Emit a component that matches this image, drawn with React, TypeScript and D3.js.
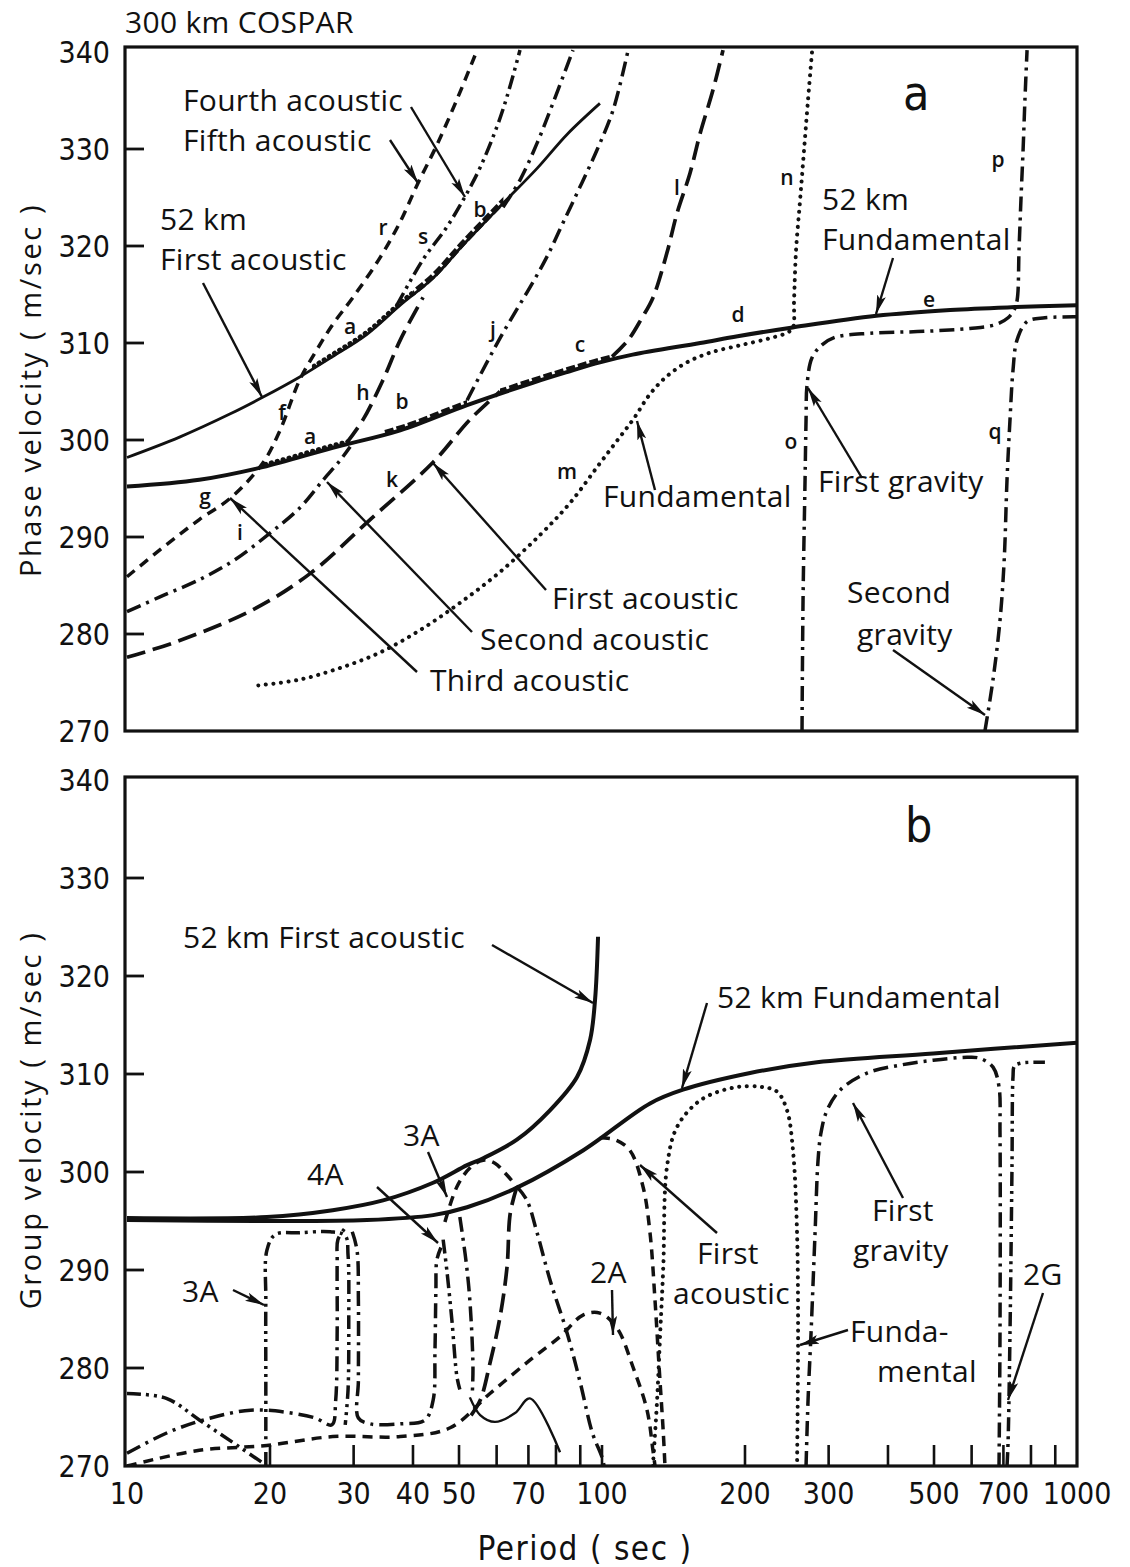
import React from "react";
import * as d3 from "d3";

type Pt = [number, number];

// ---------- axes ----------
const periodLabels = [10, 20, 30, 40, 50, 70, 100, 200, 300, 500, 700, 1000];
const periodMinorTicks = [20, 30, 40, 50, 60, 70, 80, 90, 100, 200, 300, 400, 500, 600, 700, 800, 900];
const velocityTicks = [270, 280, 290, 300, 310, 320, 330, 340];
const velocityInnerTicks = [280, 290, 300, 310, 320, 330];

// ---------- panel a : phase velocity (period s, m/s) ----------
const a52Fundamental: Pt[] = [[10,295.2],[14.2,295.9],[19.3,297.2],[27.1,299.2],[37.6,301.0],[52.0,303.6],[71.5,305.9],[84.4,307.0],[99.0,308.0],[116,308.8],[161,310.0],[193,310.7],[252,311.6],[378,312.8],[541,313.4],[740,313.7],[1000,313.9]];
const a52FirstAcoustic: Pt[] = [[10,298.2],[12.9,300.3],[16.5,302.7],[19.3,304.4],[23.1,306.5],[27.1,308.6],[32.0,310.9],[37.6,313.9],[44.1,316.7],[51.0,320.1],[61.9,324.4],[73.0,328.0],[84.4,331.5],[99.0,334.7]];
const aFundamental: Pt[] = [[18.9,274.7],[23.1,275.3],[28.1,276.5],[34.1,278.1],[41.4,280.4],[50.2,283.2],[61.0,286.4],[74.0,290.2],[85.6,293.5],[99.0,297.6],[109,300.3],[117,302.3],[125.6,304.6],[135.7,306.4],[149.6,307.9],[168.8,309.0],[197,309.8],[226,310.5],[246.4,311.1],[252.4,311.6],[253.7,314.4],[256.2,319.6],[261.2,324.7],[266.3,329.9],[271.5,335.1],[277,340.2]];
const aModeGFR: Pt[] = [[10,285.9],[12.1,289.2],[14.2,291.8],[16.5,294.0],[19.3,297.6],[21.0,301.0],[23.1,306.2],[25.1,309.3],[27.1,311.9],[29.9,314.7],[34.1,318.8],[37.6,322.5],[41.0,326.5],[44.9,330.4],[49.5,335.1],[54.6,340.2]];
const aModeH: Pt[] = [[29.0,299.7],[31.4,302.1],[34.6,306.2],[37.6,310.3],[42.0,314.7]];
const aModeS: Pt[] = [[37.0,313.9],[42.0,318.6],[47.2,322.0],[51.5,325.1],[55.4,328.1],[60.1,332.3],[63.1,335.4],[67.2,340.2]];
const aModeT: Pt[] = [[61.9,324.0],[67.2,326.8],[73.0,330.6],[78.8,334.7],[86.9,340.2]];
const aModeI: Pt[] = [[10,282.3],[11.7,283.8],[14.2,285.6],[16.8,287.6],[20.0,290.4],[23.1,293.0],[25.9,295.9],[28.1,297.9],[29.5,299.3]];
const aModeJ: Pt[] = [[52.0,304.1],[61.0,310.5],[71.6,316.3],[76.6,318.9],[82.8,322.4],[89.9,326.1],[97.6,329.9],[105.5,334.0],[113.5,340.2]];
const aModeK: Pt[] = [[10,277.6],[12.7,279.2],[18.4,282.5],[24.4,286.3],[32.5,291.8],[44.1,297.7],[52.7,302.1],[61.0,305.0]];
const aModeL: Pt[] = [[105.0,308.6],[113.5,310.3],[121.4,312.6],[128.1,314.7],[137.0,319.3],[143.9,323.4],[153.2,327.5],[160.9,331.6],[171.3,336.1],[179.8,340.2]];
const aFirstGravity: Pt[] = [[263.7,270],[265.0,283.5],[267.6,295.9],[268.9,302.1],[270.2,305.7],[276.9,308.5],[290.5,309.8],[310.1,310.6],[366.6,311.0],[476,311.2],[595,311.5],[675,311.9],[716,312.6],[737,313.4],[748,314.4],[755,319.6],[762,324.7],[770,329.9],[777,335.1],[785,340.2]];
const aSecondGravity: Pt[] = [[640,270],[665.6,275.3],[688.5,281.4],[702.6,287.6],[712.3,295.9],[722.7,302.1],[733.3,307.2],[747.6,310.3],[784.8,312.2],[856,312.6],[1000,312.7]];

// segments where 300 km modes run along the 52 km curves (period ranges)
const aMarkRanges = [
  { base: "F", lo: 19.3, hi: 29.5, kind: "dots" },
  { base: "F", lo: 34.6, hi: 52, kind: "thick" },
  { base: "F", lo: 61, hi: 106, kind: "thick" },
  { base: "A", lo: 24.5, hi: 40, kind: "dots" },
  { base: "A", lo: 40, hi: 62, kind: "thick" },
];

// ---------- panel b : group velocity ----------
const b52Fundamental: Pt[] = [[10,295.1],[19.7,295.0],[32.0,295.1],[44.1,295.6],[52.0,296.4],[66.2,298.4],[91.2,302.2],[126.2,307.0],[148.1,308.4],[205,310.1],[283.6,311.2],[498,312.1],[1000,313.2]];
const b52FirstAcoustic: Pt[] = [[10,295.3],[19.7,295.4],[27.1,296.1],[34.6,297.1],[44.1,298.9],[52.0,300.7],[56.2,301.4],[66.2,303.3],[77.7,306.3],[88.6,309.7],[94.4,313.5],[96.7,317.6],[98.1,324.0]];
const bFundamental: Pt[] = [[128.0,270],[130.6,276.7],[132.6,283.6],[134.6,290.3],[137.0,300.5],[143.9,304.6],[160.9,307.3],[188.6,308.6],[215.2,308.7],[233.6,308.2],[245.2,306.3],[252.4,302.2],[257.4,293.8],[258.7,283.6],[257.4,270]];
const bFirstAcoustic: Pt[] = [[99.0,303.5],[106.5,303.3],[114.5,302.2],[122.0,298.5],[126.2,293.8],[129.3,286.9],[131.9,280.1],[134.6,273.4],[135.7,270]];
const bSecondAcoustic: Pt[] = [[10,270],[10.8,270.4],[14.2,271.6],[19.7,272.1],[27.1,273.0],[37.6,273.0],[47.9,273.9],[58.1,277.4],[70.5,280.8],[81.6,283.2],[91.2,285.4],[99.0,285.6],[107.5,284.1],[116.2,280.1],[124.4,275.7],[128.0,271.6],[129.3,270]];
const bFirstGravity: Pt[] = [[268.9,270],[271.5,276.7],[275.5,283.6],[280.9,293.8],[285.0,301.2],[289.1,304.0],[297.7,306.3],[317.8,308.4],[361.4,310.1],[424,310.9],[497.6,311.4],[586.7,311.7],[625,311.6],[665.6,310.7],[685.2,308.7],[688.5,304.0],[688.5,283.6],[685.2,270]];
const bSecondGravity: Pt[] = [[712.3,270],[715.8,272.3],[722.7,283.6],[729.7,300.5],[733.3,309.7],[738,310.8],[758.9,311.1],[856,311.2]];
const bThirdArch: Pt[] = [[46.7,294.9],[49.5,298.5],[52.7,300.4],[56.2,301.2],[59.5,300.9],[62.5,299.9],[66.2,298.5]];
const bThirdFall: Pt[] = [[66.2,298.5],[69.5,297.1],[73.0,293.8],[77.7,289.0],[84.4,283.6],[90.0,278.5],[95.4,273.4],[100,270.9],[101,270]];
const bThirdBack: Pt[] = [[66.2,298.5],[64.1,295.8],[63.1,290.3],[61.0,285.2],[58.1,280.5],[55.4,276.7],[52.7,275.0]];
const bHook: Pt[] = [[52.7,277.0],[55.4,275.2],[59.5,274.5],[65.6,275.4],[70.5,276.9],[81.6,271.4]];
const bThirdLeft: Pt[] = [[19.6,270],[19.6,278.8],[19.6,286.9],[19.7,292.0],[20.5,293.6],[23.1,293.8],[26.8,293.9],[28.8,293.5],[29.2,291.5],[29.3,284.9],[29.2,277.8],[28.8,274.2]];
const bLow1: Pt[] = [[10,271.3],[12.3,273.5],[15.0,274.9],[18.2,275.7],[21.5,275.5],[24.9,274.9],[27.0,274.2],[27.5,276.7],[27.7,283.9],[27.7,291.0],[27.8,293.1],[28.8,294.3]];
const bFourth: Pt[] = [[29.8,293.9],[30.5,292.0],[30.7,286.9],[30.7,278.8],[30.7,274.9],[32.5,274.3],[37.6,274.3],[42.4,274.7],[44.1,276.7],[44.5,281.8],[44.7,288.0],[44.9,291.0],[45.8,292.3]];
const bDrop1: Pt[] = [[46.3,293.1],[47.2,289.7],[48.3,284.9],[49.5,279.1],[50.2,277.8]];
const bDrop2: Pt[] = [[50.2,295.4],[51.7,291.0],[52.7,286.9],[53.5,280.1],[53.3,277.2]];
const bLow2: Pt[] = [[10,277.4],[12.1,276.9],[14.2,274.7],[17.3,271.9],[19.2,270.4]];

// ---------- styles ----------
const STYLES: Record<string, { w: number; dash?: string; cap?: string }> = {
  solidThick: { w: 4 },
  solidThin: { w: 2.8 },
  thin: { w: 2.4 },
  dashed: { w: 3.5, dash: "10 7" },
  longDash: { w: 3.7, dash: "19 8" },
  dashDot: { w: 3.5, dash: "15 6 3 6" },
  dashDotDot: { w: 3.5, dash: "14 5 3 5 3 5" },
  dotted: { w: 4, dash: "0.1 7.5", cap: "round" },
};

const aSeries = [
  { data: a52Fundamental, s: "solidThick" },
  { data: a52FirstAcoustic, s: "solidThin" },
  { data: aFundamental, s: "dotted" },
  { data: aModeGFR, s: "dashed" },
  { data: aModeH, s: "longDash" },
  { data: aModeS, s: "dashDotDot" },
  { data: aModeT, s: "dashDot" },
  { data: aModeI, s: "dashDot" },
  { data: aModeJ, s: "dashDot" },
  { data: aModeK, s: "longDash" },
  { data: aModeL, s: "longDash" },
  { data: aFirstGravity, s: "dashDot" },
  { data: aSecondGravity, s: "dashDot" },
];

const bSeries = [
  { data: b52Fundamental, s: "solidThick" },
  { data: b52FirstAcoustic, s: "solidThick" },
  { data: bFundamental, s: "dotted" },
  { data: bFirstAcoustic, s: "dashed" },
  { data: bSecondAcoustic, s: "dashed" },
  { data: bFirstGravity, s: "dashDot" },
  { data: bSecondGravity, s: "dashDotDot" },
  { data: bThirdArch, s: "dashed" },
  { data: bThirdFall, s: "dashDot" },
  { data: bThirdBack, s: "longDash" },
  { data: bHook, s: "thin" },
  { data: bThirdLeft, s: "dashDotDot" },
  { data: bLow1, s: "dashDot" },
  { data: bFourth, s: "dashDot" },
  { data: bDrop1, s: "dashDotDot" },
  { data: bDrop2, s: "dashDot" },
  { data: bLow2, s: "dashDotDot" },
];

// ---------- annotation layout (pixels) ----------
const LABEL_FONT = "'Open Sans', 'DejaVu Sans', sans-serif";
const NUM_FONT = "'Liberation Sans Narrow', 'DejaVu Sans Condensed', 'Liberation Sans', sans-serif";

const textLabels = [
  { t: "300 km COSPAR", x: 125, y: 33 },
  { t: "Fourth acoustic", x: 183, y: 111 },
  { t: "Fifth acoustic", x: 183, y: 151 },
  { t: "52 km", x: 160, y: 230 },
  { t: "First acoustic", x: 160, y: 270 },
  { t: "52 km", x: 822, y: 210 },
  { t: "Fundamental", x: 822, y: 250 },
  { t: "Fundamental", x: 603, y: 507 },
  { t: "First gravity", x: 818, y: 492 },
  { t: "First acoustic", x: 552, y: 609 },
  { t: "Second acoustic", x: 480, y: 650 },
  { t: "Third acoustic", x: 430, y: 691 },
  { t: "Second", x: 847, y: 603 },
  { t: "gravity", x: 857, y: 645 },
  { t: "52 km First acoustic", x: 183, y: 948 },
  { t: "52 km Fundamental", x: 717, y: 1008 },
  { t: "3A", x: 403, y: 1146 },
  { t: "4A", x: 307, y: 1185 },
  { t: "3A", x: 182, y: 1302 },
  { t: "2A", x: 590, y: 1283 },
  { t: "First", x: 697, y: 1264 },
  { t: "acoustic", x: 673, y: 1304 },
  { t: "First", x: 872, y: 1221 },
  { t: "gravity", x: 853, y: 1261 },
  { t: "Funda-", x: 850, y: 1342 },
  { t: "mental", x: 877, y: 1382 },
  { t: "2G", x: 1023, y: 1285 },
];

const smallLetters = [
  { t: "r", x: 383, y: 228 }, { t: "s", x: 423, y: 237 }, { t: "b", x: 480, y: 210 },
  { t: "a", x: 350, y: 327 }, { t: "h", x: 363, y: 393 }, { t: "b", x: 402, y: 402 },
  { t: "f", x: 282, y: 413 }, { t: "a", x: 310, y: 437 }, { t: "g", x: 205, y: 497 },
  { t: "i", x: 240, y: 533 }, { t: "k", x: 392, y: 480 }, { t: "j", x: 493, y: 330 },
  { t: "c", x: 580, y: 345 }, { t: "m", x: 567, y: 472 }, { t: "d", x: 738, y: 315 },
  { t: "l", x: 677, y: 188 }, { t: "n", x: 787, y: 178 }, { t: "e", x: 929, y: 300 },
  { t: "p", x: 998, y: 160 }, { t: "o", x: 791, y: 442 }, { t: "q", x: 995, y: 432 },
];

const arrows = [
  [411, 107, 465, 197], [390, 140, 418, 183], [203, 283, 262, 397], [893, 258, 876, 314],
  [655, 490, 637, 421], [862, 478, 808, 388], [546, 590, 433, 463], [472, 632, 327, 482],
  [417, 672, 230, 498], [893, 650, 985, 715],
  [492, 945, 593, 1003], [707, 1003, 682, 1088], [377, 1187, 438, 1243], [428, 1152, 447, 1197],
  [233, 1290, 264, 1305], [612, 1290, 613, 1335], [717, 1233, 640, 1165], [903, 1198, 853, 1103],
  [848, 1330, 800, 1345], [1043, 1293, 1008, 1400],
];

export default function App() {
  const W = 1130, H = 1567;
  const x = d3.scaleLog().domain([10, 1000]).range([127, 1077]);
  const yA = d3.scaleLinear().domain([270, 340]).range([731, 52]);
  const yB = d3.scaleLinear().domain([270, 340]).range([1466, 780]);
  const lineA = d3.line<Pt>().x((d) => x(d[0])).y((d) => yA(d[1])).curve(d3.curveCatmullRom.alpha(0.5));
  const lineB = d3.line<Pt>().x((d) => x(d[0])).y((d) => yB(d[1])).curve(d3.curveCatmullRom.alpha(0.5));

  const frameA = { x0: 125, x1: x(1000), y0: 47, y1: yA(270) };
  const frameB = { x0: 125, x1: x(1000), y0: 777, y1: yB(270) };

  const stroke = "#111";
  const styleProps = (s: string) => {
    const st = STYLES[s];
    return {
      fill: "none",
      stroke,
      strokeWidth: st.w,
      strokeDasharray: st.dash,
      strokeLinecap: (st.cap || "butt") as any,
      strokeLinejoin: "round" as any,
    };
  };

  return (
    <svg width={W} height={H} style={{ position: "absolute", left: 0, top: 0, background: "#fff" }}>
      <defs>
        <clipPath id="clipA">
          <rect x={frameA.x0} y={frameA.y0} width={frameA.x1 - frameA.x0} height={frameA.y1 - frameA.y0} />
        </clipPath>
        <clipPath id="clipB">
          <rect x={frameB.x0} y={frameB.y0} width={frameB.x1 - frameB.x0} height={frameB.y1 - frameB.y0} />
        </clipPath>
        {aMarkRanges.map((m, i) => (
          <clipPath id={`mark${i}`} key={i}>
            <rect x={x(m.lo)} y={0} width={x(m.hi) - x(m.lo)} height={H} />
          </clipPath>
        ))}
        <marker id="arrow" markerUnits="userSpaceOnUse" markerWidth={22} markerHeight={12} refX={19} refY={6} orient="auto">
          <path d="M0,1.5 L19,6 L0,10.5 L4,6 Z" fill={stroke} />
        </marker>
      </defs>

      {/* annotation texts */}
      <g fontFamily={LABEL_FONT} fontSize={30} fontWeight={500} fill={stroke}>
        {textLabels.map((l, i) => (
          <text key={i} x={l.x} y={l.y} letterSpacing={0.3}>{l.t}</text>
        ))}
      </g>
      <g fontFamily={LABEL_FONT} fontSize={21} fontWeight={600} fill={stroke} textAnchor="middle">
        {smallLetters.map((l, i) => (
          <text key={i} x={l.x} y={l.y} dy="0.35em">{l.t}</text>
        ))}
      </g>
      <text x={903} y={110} fontFamily={NUM_FONT} fontSize={48} fill={stroke}>a</text>
      <text x={905} y={842} fontFamily={NUM_FONT} fontSize={48} fill={stroke}>b</text>

      {/* axis titles */}
      <text transform="translate(41,390) rotate(-90)" textAnchor="middle" fontFamily={LABEL_FONT} fontSize={29} fontWeight={500} letterSpacing={2.6} fill={stroke}>
        Phase velocity ( m/sec )
      </text>
      <text transform="translate(41,1120) rotate(-90)" textAnchor="middle" fontFamily={LABEL_FONT} fontSize={29} fontWeight={500} letterSpacing={2.6} fill={stroke}>
        Group velocity ( m/sec )
      </text>
      <text x={585} y={1560} textAnchor="middle" fontFamily={NUM_FONT} fontSize={33} letterSpacing={1.5} fill={stroke}>
        Period ( sec )
      </text>

      {/* y tick labels */}
      <g fontFamily={NUM_FONT} fontSize={30} fill={stroke} textAnchor="end">
        {velocityTicks.map((v) => (
          <text key={"a" + v} x={110} y={yA(v)} dy="0.36em">{v}</text>
        ))}
        {velocityTicks.map((v) => (
          <text key={"b" + v} x={110} y={yB(v)} dy="0.36em">{v}</text>
        ))}
      </g>
      {/* x tick labels */}
      <g fontFamily={NUM_FONT} fontSize={30} fill={stroke} textAnchor="middle">
        {periodLabels.map((p) => (
          <text key={p} x={x(p)} y={1504}>{p}</text>
        ))}
      </g>

      {/* frames and ticks */}
      <g stroke={stroke} fill="none">
        <rect x={frameA.x0} y={frameA.y0} width={frameA.x1 - frameA.x0} height={frameA.y1 - frameA.y0} strokeWidth={3.2} />
        <rect x={frameB.x0} y={frameB.y0} width={frameB.x1 - frameB.x0} height={frameB.y1 - frameB.y0} strokeWidth={3.2} />
        {velocityInnerTicks.map((v) => (
          <line key={"ta" + v} x1={frameA.x0} x2={frameA.x0 + 19} y1={yA(v)} y2={yA(v)} strokeWidth={2.8} />
        ))}
        {velocityInnerTicks.map((v) => (
          <line key={"tb" + v} x1={frameB.x0} x2={frameB.x0 + 19} y1={yB(v)} y2={yB(v)} strokeWidth={2.8} />
        ))}
        {periodMinorTicks.map((p) => (
          <line key={"tx" + p} x1={x(p)} x2={x(p)} y1={frameB.y1} y2={frameB.y1 - 21} strokeWidth={2.6} />
        ))}
      </g>

      {/* panel a curves */}
      <g clipPath="url(#clipA)">
        {aSeries.map((s, i) => (
          <path key={i} d={lineA(s.data) || ""} {...styleProps(s.s)} />
        ))}
        {aMarkRanges.map((m, i) => (
          <g key={i} clipPath={`url(#mark${i})`}>
            <path
              d={lineA(m.base === "F" ? a52Fundamental : a52FirstAcoustic) || ""}
              transform="translate(0,-2)"
              fill="none"
              stroke={stroke}
              strokeWidth={m.kind === "dots" ? 5.2 : 5.8}
              strokeDasharray={m.kind === "dots" ? "0.1 6" : "9 3"}
              strokeLinecap={m.kind === "dots" ? "round" : "butt"}
            />
          </g>
        ))}
      </g>

      {/* panel b curves */}
      <g clipPath="url(#clipB)">
        {bSeries.map((s, i) => (
          <path key={i} d={lineB(s.data) || ""} {...styleProps(s.s)} />
        ))}
      </g>

      {/* arrows */}
      <g stroke={stroke} strokeWidth={2.4}>
        {arrows.map((a, i) => (
          <line key={i} x1={a[0]} y1={a[1]} x2={a[2]} y2={a[3]} markerEnd="url(#arrow)" />
        ))}
      </g>
    </svg>
  );
}
